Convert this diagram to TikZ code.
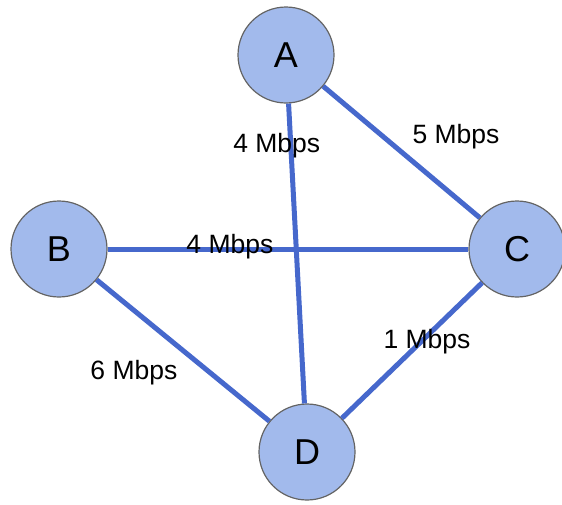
\documentclass[tikz,border=0pt]{standalone}
\usepackage{fontspec}
\setmainfont{Liberation Sans}
\usepackage{tikz}

\definecolor{nodefill}{RGB}{162,186,236}
\definecolor{linkblue}{RGB}{70,104,204}
\definecolor{rimgray}{RGB}{100,100,100}

\tikzset{
  router/.style={circle, draw=rimgray, line width=1.2pt, fill=nodefill,
    minimum size=96pt, inner sep=0pt, font=\fontsize{36}{40}\selectfont},
  link/.style={draw=linkblue, line width=5pt},
  rate/.style={font=\fontsize{26.5}{30}\selectfont, inner sep=0pt}
}

\begin{document}
\begin{tikzpicture}[x=1pt,y=-1pt]
  \useasboundingbox (0,0) rectangle (562,504);

  \node[router] (A) at (286, 55) {A};
  \node[router] (B) at (59, 249) {B};
  \node[router] (C) at (517, 249) {C};
  \node[router] (D) at (307, 452) {D};

  \draw[link] (A)--(D) node[rate,pos=0.139,xshift=-14pt]{4 Mbps};
  \draw[link] (A)--(C) node[rate,pos=0.848,yshift=61pt]{5 Mbps};
  \draw[link] (B)--(C) node[rate,pos=0.339,yshift=2pt]{4 Mbps};
  \draw[link] (B)--(D) node[rate,pos=0.216,yshift=-62pt]{6 Mbps};
  \draw[link] (C)--(D) node[rate,pos=0.393,yshift=-6pt]{1 Mbps};
\end{tikzpicture}
\end{document}
